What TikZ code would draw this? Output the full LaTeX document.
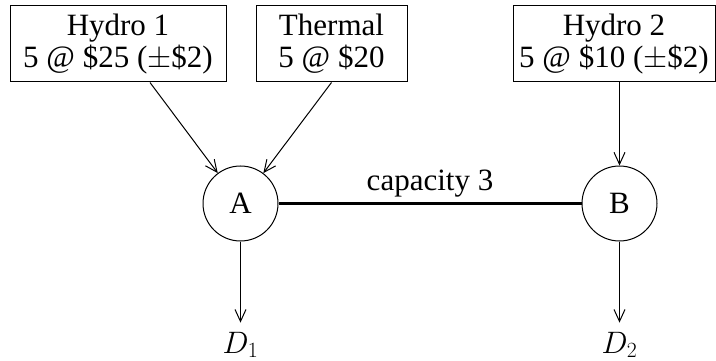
\RequirePackage{fix-cm}
\documentclass[tikz,border=0pt]{standalone}
\usepackage{fontspec}
\setmainfont{Liberation Serif}
\usetikzlibrary{arrows.meta}
\begin{document}
\begin{tikzpicture}[x=1pt,y=-1pt,
  txt/.style={font=\fontsize{31}{32}\selectfont},
  box/.style={txt,draw,line width=1pt,align=center,inner sep=0pt,minimum height=76pt},
  bus/.style={txt,draw,circle,line width=1pt,minimum size=75pt,inner sep=0pt},
  flow/.style={line width=1pt,-{Straight Barb[length=12pt,width=11pt,line width=1pt]}},
  link/.style={line width=2.4pt}]
\useasboundingbox (0,0) rectangle (716,361);
\node[box,minimum width=216pt] (h1) at (118,44) {Hydro 1\\5 @ \$25 ($\pm$\$2)};
\node[box,minimum width=151pt] (th) at (331.5,44) {Thermal\\5 @ \$20};
\node[box,minimum width=202pt] (h2) at (614,44) {Hydro 2\\5 @ \$10 ($\pm$\$2)};
\node[bus] (A) at (240.5,203.5) {A};
\node[bus] (B) at (619.5,203.5) {B};
\node[txt,inner sep=0pt,anchor=base] (d1) at (240.5,353) {$D_1$};
\node[txt,inner sep=0pt,anchor=base] (d2) at (619.5,353) {$D_2$};
\draw[flow] ([xshift=32pt]h1.south) -- (A);
\draw[flow] (th.south) -- (A);
\draw[flow] (B |- h2.south) -- (B);
\draw[flow] (A) -- ([yshift=9pt]A |- d1.north);
\draw[flow] (B) -- ([yshift=9pt]B |- d2.north);
\draw[link] (A) -- node[txt,midway,anchor=base,yshift=13pt,inner sep=0pt] (cap) {capacity 3} (B);
\end{tikzpicture}
\end{document}
